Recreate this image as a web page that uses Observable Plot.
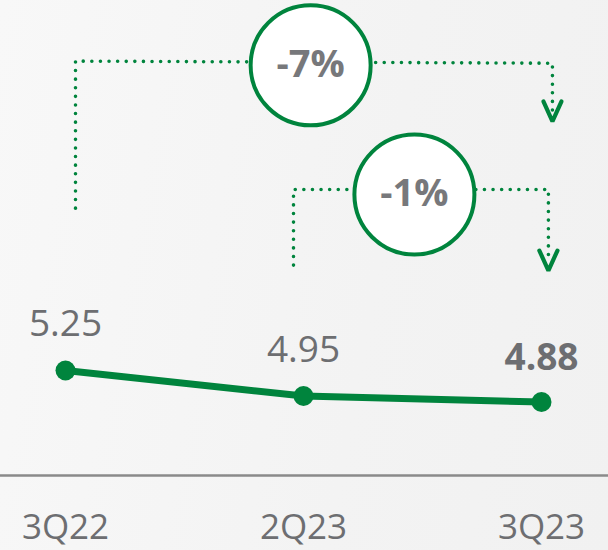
<!DOCTYPE html>
<html>
<head>
<meta charset="utf-8">
<script src="https://cdn.jsdelivr.net/npm/d3@7"></script>
<script src="https://cdn.jsdelivr.net/npm/@observablehq/plot@0.6"></script>
<style>
  html, body { margin: 0; padding: 0; background: #f4f4f4; }
  #chart svg { display: block; }
</style>
</head>
<body>
<div id="chart"></div>
<script>
// ---- data ----
const categories = ["3Q22", "2Q23", "3Q23"];
const values = [5.25, 4.95, 4.88];
const changeLabels = ["-7%", "-1%"];
// bracket geometry in scale units (x = category index, y = value axis)
const bracketFrom = [0.042, 0.958];
const bracketTo = [2.046, 2.029];
const bracketStart = [7.16, 6.49];
const bracketTop = [8.89, 7.38];
const bracketTip = [8.18, 6.426];
const badgeX = [1.03, 1.466];
const badgeY = [8.84, 7.32];

const green = "#00843d";
const grey = "#6d6e71";

const rows = categories.map((c, i) => ({i, c, v: values[i], last: i === categories.length - 1}));

const paths = [];
const arrows = [];
bracketFrom.forEach((x0, k) => {
  const x1 = bracketTo[k];
  paths.push({g: k, x: x0, y: bracketStart[k]});
  paths.push({g: k, x: x0, y: bracketTop[k]});
  paths.push({g: k, x: x1, y: bracketTop[k] - (k === 0 ? 0.025 : 0)});
  paths.push({g: k, x: x1, y: bracketTip[k] + 0.09});
  const h = 0.235, w = 0.038;
  arrows.push({g: k, x: x1 - w, y: bracketTip[k] + h});
  arrows.push({g: k, x: x1, y: bracketTip[k]});
  arrows.push({g: k, x: x1 + w, y: bracketTip[k] + h});
});
const badges = changeLabels.map((t, k) => ({t, x: badgeX[k], y: badgeY[k]}));

const chart = Plot.plot({
  width: 608,
  height: 550,
  marginTop: 0,
  marginLeft: 0,
  marginRight: 0,
  marginBottom: 75,
  style: {
    background: "linear-gradient(100deg, #f8f8f8 0%, #f3f3f3 60%, #f1f1f1 100%)",
    fontFamily: "'Open Sans', 'Noto Sans', sans-serif",
    color: grey
  },
  x: {type: "linear", domain: [0, 2], range: [65, 541], axis: null},
  y: {domain: [4.015, 9.603], axis: null},
  marks: [
    Plot.ruleY([4.015], {stroke: "#8a8a8a", strokeWidth: 2.5}),
    Plot.axisX({ticks: [0, 1, 2], tickFormat: i => categories[i], tickSize: 0, tickPadding: 39,
      fontSize: 35, fill: grey}),
    Plot.line(paths, {x: "x", y: "y", z: "g", stroke: green, strokeWidth: 3.6,
      strokeDasharray: "0 8.6", strokeLinecap: "round", curve: "linear"}),
    Plot.line(arrows, {x: "x", y: "y", z: "g", stroke: green, strokeWidth: 4.2, strokeLinejoin: "miter"}),
    Plot.dot(badges, {x: "x", y: "y", r: 60, fill: "white", stroke: green, strokeWidth: 4}),
    Plot.text(badges, {x: "x", y: "y", text: "t", fontSize: 38, fontWeight: "bold", fill: "#77787b", dy: -1}),
    Plot.line(rows, {x: "i", y: "v", stroke: green, strokeWidth: 7}),
    Plot.dot(rows, {x: "i", y: "v", r: 10, fill: green}),
    Plot.text(rows.filter(d => !d.last), {x: "i", y: "v", text: d => d.v.toFixed(2), dy: -46,
      fontSize: 37, fill: grey}),
    Plot.text(rows.filter(d => d.last), {x: "i", y: "v", text: d => d.v.toFixed(2), dy: -44,
      fontSize: 37, fontWeight: "bold", fill: grey})
  ]
});
document.getElementById("chart").appendChild(chart);
</script>
</body>
</html>
